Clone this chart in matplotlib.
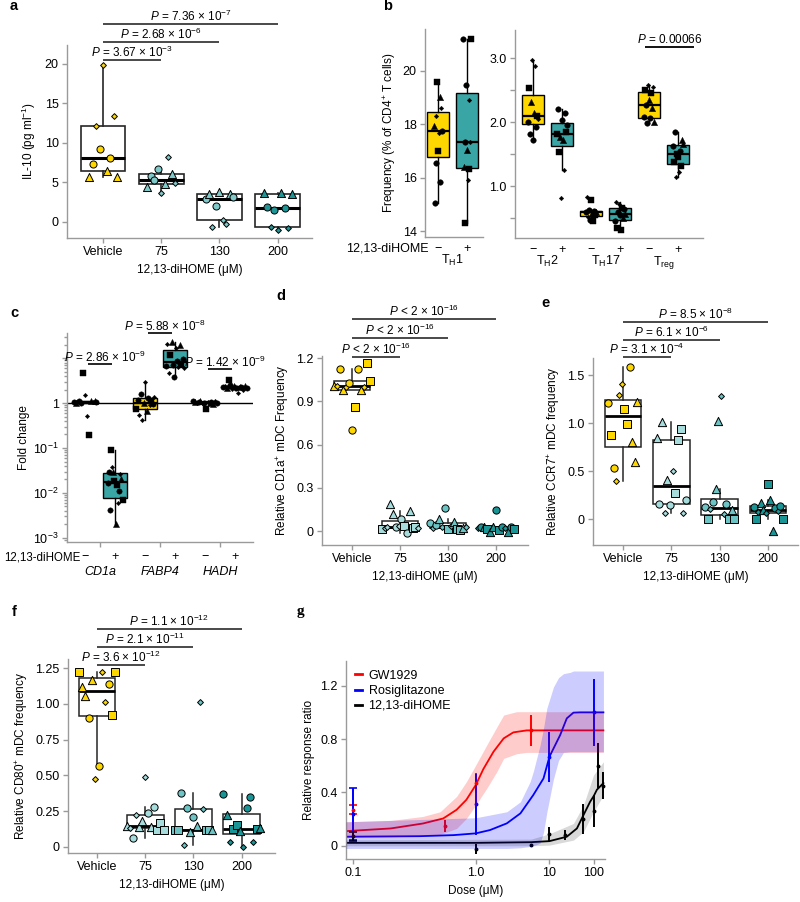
import numpy as np
import matplotlib
matplotlib.use("Agg")
import matplotlib.pyplot as plt
from matplotlib import cbook
from matplotlib.lines import Line2D
from matplotlib.ticker import LogLocator, NullFormatter, FixedLocator

plt.rcParams.update({
    'font.family': ['Liberation Sans', 'DejaVu Sans'],
    'font.size': 8.5,
    'mathtext.fontset': 'custom',
    'mathtext.rm': 'Liberation Sans',
    'mathtext.it': 'Liberation Sans:italic',
    'mathtext.bf': 'Liberation Sans:bold',
    'axes.unicode_minus': True,
})

# ---------------- colours ----------------
YEL = '#FFD700'
TEAL_BOX = '#3AA5A5'
A_LIGHT = '#80C9C9'
A_DARK = '#1F9595'
LIGHT = '#A6DCDC'
MED = '#6CC4C4'
DARK = '#1A9494'

# ---------------- data: panel a ----------------
A_GROUPS = ['Vehicle', '75', '130', '200']
A_VEH = [5.7, 7.4, 12.2, 9.2, 19.9, 6.4, 8.1, 13.4, 5.7]
A_VEH_M = "^oDoD^oD^"
A_75 = [4.4, 5.8, 5.3, 6.7, 3.7, 4.8, 8.2, 6.1, 4.9]
A_75_M = "^oooD^D^D"
A_130 = [2.9, 3.6, -0.6, 2.0, 3.8, 0.2, -0.2, 3.6, 3.1]
A_130_M = "o^Do^DD^o"
A_200 = [3.7, 1.9, -0.7, 1.5, -1.0, 3.7, 1.8, -0.8, 3.6]
A_200_M = "^oDoD^oD^"
A_P = ['3.67 × 10$^{-3}$', '2.68 × 10$^{-6}$', '7.36 × 10$^{-7}$']

# ---------------- data: panel b ----------------
B1_NEG = [17.93, 15.07, 18.3, 16.57, 19.59, 17.0, 17.66, 19.03, 15.85, 18.6, 17.76]
B1_NEG_M = "^oDossD^oDo"
B1_POS = [21.18, 16.41, 17.34, 14.31, 19.47, 17.03, 15.91, 18.9, 16.31, 17.34, 21.18]
B1_POS_M = "o^oso^DDsDs"
B_TH2_NEG = [2.0, 2.53, 1.81, 2.32, 2.97, 1.72, 2.14, 2.88, 1.93, 2.1, 2.05]
B_TH2_NEG_M = "oso^Do^DosD"
B_TH2_POS = [1.82, 2.21, 1.54, 1.77, 0.81, 2.03, 1.72, 1.26, 2.14, 1.85, 1.95]
B_TH2_POS_M = "sos^Do^Doso"
B_TH17_NEG = [0.6, 0.83, 0.52, 0.62, 0.47, 0.78, 0.58, 0.45, 0.61, 0.55, 0.6]
B_TH17_NEG_M = "oDDoos^sos^"
B_TH17_POS = [0.45, 0.76, 0.34, 0.6, 0.72, 0.55, 0.32, 0.66, 0.5, 0.65, 0.57]
B_TH17_POS_M = "oDsoDoss^o^"
B_TREG_NEG = [2.08, 2.5, 2.27, 1.98, 2.58, 2.35, 2.06, 2.45, 2.22, 2.55, 2.0]
B_TREG_NEG_M = "osooD^os^D^"
B_TREG_POS = [1.62, 1.38, 1.84, 1.14, 1.51, 1.45, 1.22, 1.55, 1.32, 1.72, 1.66]
B_TREG_POS_M = "osoDssDos^^"
B_GROUPS = ['T$_\\mathrm{H}$2', 'T$_\\mathrm{H}$17', 'T$_\\mathrm{reg}$']
B_P = '0.00066'

# ---------------- data: panel c ----------------
C_CD1A_NEG = [1.05, 1.02, 1.08, 1.1, 1.0, 4.6, 1.5, 0.51, 0.19, 1.12, 1.06, 1.1, 1.04]
C_CD1A_NEG_M = "o^DoosDDs^D^o"
C_CD1A_POS = [0.017, 0.03, 0.0042, 0.09, 0.038, 0.029, 0.018, 0.002, 0.015, 0.006, 0.011, 0.027, 0.02, 0.007]
C_CD1A_POS_M = "ooosD^s^sDoD^s"
C_FABP4_NEG = [0.75, 1.2, 0.55, 1.6, 0.42, 1.0, 2.9, 0.65, 1.3, 0.9, 1.1, 0.95, 1.35]
C_FABP4_NEG_M = "soDoD^D^oDsoD"
C_FABP4_POS = [6.8, 21, 4.6, 11.7, 23, 7.2, 3.8, 17, 8.5, 6.2, 20, 7.6, 9.5, 5.9]
C_FABP4_POS_M = "oDDs^ooDoD^soD"
C_HADH_NEG = [1.1, 1.05, 1.0, 1.08, 1.12, 0.98, 1.02, 0.75, 1.06, 1.0, 1.04, 0.96, 1.1, 1.03]
C_HADH_NEG_M = "o^Do^DosD^o^Do"
C_HADH_POS = [2.3, 2.4, 2.2, 3.2, 2.5, 2.1, 2.35, 2.2, 1.7, 2.3, 2.25, 2.0, 2.4, 2.15]
C_HADH_POS_M = "oD^soD^oD^oD^o"
C_GENES = ['CD1a', 'FABP4', 'HADH']
C_P = ['2.86 × 10$^{-9}$', '5.88 × 10$^{-8}$', '1.42 × 10$^{-9}$']

# ---------------- data: panel d ----------------
D_VEH = [1.01, 1.005, 1.125, 0.98, 1.0, 1.03, 0.70, 0.865, 1.125, 0.98, 1.0, 1.165, 1.04]
D_VEH_M = "^Do^Dooso^Dss"
D_75 = [0.015, 0.02, 0.025, 0.188, 0.118, 0.03, 0.035, 0.083, 0.035, -0.012, 0.141, 0.02, 0.025, 0.02]
D_75_M = "sDD^^oDoso^ssD"
D_130 = [0.053, 0.02, 0.04, 0.083, 0.025, 0.158, 0.012, 0.035, 0.06, 0.012, 0.01, 0.02, 0.03]
D_130_M = "oDo^DosD^ss^D"
D_200 = [0.02, 0.03, 0.025, 0.012, -0.005, 0.03, 0.148, 0.01, 0.03, 0.02, -0.005, 0.025, 0.012]
D_200_M = "Do^s^^osoD^os"
D_P = ['2 × 10$^{-16}$', '2 × 10$^{-16}$', '2 × 10$^{-16}$']

# ---------------- data: panel e ----------------
E_VEH = [1.211, 0.874, 0.536, 0.393, 1.288, 1.403, 1.145, 0.995, 1.587, 0.804, 0.595, 1.222]
E_VEH_M = "osoDDDsso^^^"
E_75 = [0.846, 0.16, 1.013, 0.066, 0.404, 0.143, 0.501, 0.275, 0.821, 0.933, 0.066, 0.202]
E_75_M = "^o^D^oDsssDo"
E_130 = [0.125, 0.0, 0.101, 0.174, 0.31, 1.02, 1.281, 0.056, 0.153, 0.0, 0.09, 0.0]
E_130_M = "osDo^^DDos^s"
E_200 = [0.125, 0.0, 0.073, 0.171, 0.095, 0.063, 0.369, 0.195, -0.125, 0.12, 0.08, 0.132, 0.0]
E_200_M = "osD^^Ds^^oDos"
E_P = ['3.1 × 10$^{-4}$', '6.1 × 10$^{-6}$', '8.5 × 10$^{-8}$']

# ---------------- data: panel f ----------------
F_VEH = [1.222, 1.117, 1.056, 0.9, 1.168, 0.474, 0.565, 1.222, 1.016, 1.138, 0.923, 1.222]
F_VEH_M = "s^^o^DoDDoss"
F_75 = [0.15, 0.13, 0.063, 0.222, 0.14, 0.182, 0.486, 0.24, 0.14, 0.28, 0.121, 0.17, 0.121]
F_75_M = "^DoD^^Do^osss"
F_130 = [0.121, 0.121, 0.374, 0.016, 0.273, 0.105, 0.21, 0.147, 1.013, 0.262, 0.121, 0.121, 0.121]
F_130_M = "ssoDo^o^DDss^"
F_200 = [0.367, 0.222, 0.035, 0.124, 0.152, 0.11, 0.0, 0.269, 0.35, 0.035, 0.124, 0.13]
F_200_M = "o^Dss^DooDs^"
F_P = ['3.6 × 10$^{-12}$', '2.1 × 10$^{-11}$', '1.1 × 10$^{-12}$']

# ---------------- data: panel g ----------------
G_NAMES = ['GW1929', 'Rosiglitazone', '12,13-diHOME']
G_COLORS = ['#FF0000', '#0000FF', '#000000']
# fitted curves
G_RED_DOSE = [0.09, 0.18, 0.32, 0.48, 0.64, 0.8, 1.0, 1.21, 1.58, 2.1, 2.8, 4.3, 200]
G_RED_FIT = [0.11, 0.13, 0.167, 0.205, 0.27, 0.345, 0.455, 0.575, 0.705, 0.805, 0.85, 0.865, 0.865]
G_BLUE_DOSE = [0.09, 0.3, 0.6, 1.0, 1.44, 2.3, 3.5, 5.4, 7.9, 10, 15.8, 21.5, 30, 43, 200]
G_BLUE_FIT = [0.068, 0.072, 0.08, 0.093, 0.118, 0.168, 0.243, 0.38, 0.505, 0.668, 0.83, 0.955, 0.998, 1.0, 1.0]
G_BLACK_DOSE = [0.09, 1, 5, 10, 21.5, 36, 52, 78, 100, 123, 200]
G_BLACK_FIT = [0.022, 0.022, 0.027, 0.035, 0.068, 0.13, 0.23, 0.33, 0.375, 0.42, 0.47]
# confidence bands
G_RED_BAND_DOSE = [0.09, 0.18, 0.32, 0.45, 0.64, 0.8, 1.0, 1.32, 1.73, 2.1, 3.1, 4.3, 200]
G_RED_LO = [0.065, 0.068, 0.075, 0.085, 0.13, 0.205, 0.305, 0.43, 0.555, 0.655, 0.69, 0.70, 0.70]
G_RED_HI = [0.18, 0.19, 0.22, 0.255, 0.37, 0.48, 0.605, 0.755, 0.89, 0.98, 1.005, 1.005, 1.005]
G_BLUE_BAND_DOSE = [0.09, 1.0, 2.3, 3.5, 4.84, 5.44, 6.94, 7.89, 8.99, 11.8, 14.7, 18.4, 25.4, 30, 200]
G_BLUE_LO = [-0.02, -0.02, -0.02, -0.015, -0.005, 0.0, 0.02, 0.1, 0.25, 0.5, 0.64, 0.70, 0.705, 0.705, 0.705]
G_BLUE_HI = [0.18, 0.21, 0.255, 0.33, 0.48, 0.56, 0.755, 0.88, 1.03, 1.19, 1.26, 1.29, 1.30, 1.31, 1.31]
G_BLACK_BAND_DOSE = [0.09, 5, 10, 30, 52, 97.6, 200]
G_BLACK_LO = [0.0, 0.0, 0.005, 0.0425, 0.105, 0.255, 0.38]
G_BLACK_HI = [0.045, 0.05, 0.09, 0.1675, 0.305, 0.53, 0.63]
# measured means +- error
G_RED_PTS_DOSE = [0.1, 0.5, 1.0, 5]
G_RED_MEAN = [0.27, 0.149, 0.47, 0.865]
G_RED_ERR = [0.035, 0.044, 0.075, 0.115]
G_BLUE_PTS_DOSE = [0.1, 1.0, 10, 100]
G_BLUE_MEAN = [0.236, 0.31, 0.667, 1.0]
G_BLUE_ERR = [0.195, 0.23, 0.187, 0.25]
G_BLACK_PTS_DOSE = [0.1, 1, 5, 10, 20, 50, 100, 130, 200]
G_BLACK_MEAN = [0.07, -0.025, 0.005, 0.088, 0.08, 0.2, 0.26, 0.6, 0.45]
G_BLACK_ERR = [0.035, 0.035, 0.012, 0.056, 0.037, 0.11, 0.12, 0.17, 0.1]

# ---------------- figure ----------------
W, H = 800, 902
fig = plt.figure(figsize=(W / 100, H / 100), dpi=100)
SPINE = '#9a9a9a'
TICKFS = 9


def add_ax(x0, y0, x1, y1):
    return fig.add_axes([x0 / W, 1 - y1 / H, (x1 - x0) / W, (y1 - y0) / H])


def style_ax(ax):
    for s in ('top', 'right'):
        ax.spines[s].set_visible(False)
    for s in ('left', 'bottom'):
        ax.spines[s].set_color(SPINE)
        ax.spines[s].set_linewidth(1.0)
    ax.tick_params(axis='both', which='both', direction='out', color=SPINE,
                   length=3.5, width=1.0, labelsize=TICKFS, pad=2.5, labelcolor='black')


def draw_box(ax, vals, pos, fc, width, ec='#262626', lw=1.1, mlw=2.0, log=False):
    v = np.asarray(vals, float)
    st = cbook.boxplot_stats(np.log10(v) if log else v)[0]
    if log:
        for k in ('med', 'q1', 'q3', 'whislo', 'whishi', 'mean'):
            st[k] = 10 ** st[k]
    st['fliers'] = []
    ax.bxp([st], positions=[pos], widths=width, showfliers=False, showcaps=False,
           patch_artist=True, manage_ticks=False, zorder=2,
           boxprops=dict(facecolor=fc, edgecolor=ec, linewidth=lw),
           medianprops=dict(color='black', linewidth=mlw, solid_capstyle='butt'),
           whiskerprops=dict(color=ec, linewidth=lw))


MSCALE = {'o': 1.0, '^': 1.3, 'D': 0.33, 's': 0.95}


def draw_pts(ax, vals, shapes, pos, spread, fc, size, ec='black', lw=0.7):
    n = len(vals)
    offs = np.linspace(-spread, spread, n)
    for v, sh, o in zip(vals, shapes, offs):
        ax.scatter(pos + o, v, marker=sh, s=size * MSCALE[sh], facecolor=fc,
                   edgecolor=ec, linewidth=lw, zorder=3, clip_on=False)


def sig_bars(ax, x1s, yfr, texts, rel='=', x0=0):
    tr = ax.get_xaxis_transform()
    for x1, y, t in zip(x1s, yfr, texts):
        ax.plot([x0, x1], [y, y], transform=tr, color='#3a3a3a', lw=1.3,
                clip_on=False, solid_capstyle='butt')
        ax.annotate('$P$ ' + rel + ' ' + t, xy=((x0 + x1) / 2, y), xycoords=tr,
                    xytext=(0, 2.2), textcoords='offset points', ha='center',
                    va='baseline', fontsize=8.5, annotation_clip=False)


def letter(x, y, s, **kw):
    fig.text(x / W, 1 - y / H, s, fontweight='bold', fontsize=10.5, va='baseline', **kw)


# ================= panel a =================
ax = add_ax(67, 45, 312, 238)
style_ax(ax)
a_vals = [A_VEH, A_75, A_130, A_200]
a_marks = [A_VEH_M, A_75_M, A_130_M, A_200_M]
a_cols = [YEL, A_LIGHT, A_LIGHT, A_DARK]
for i, (v, m, c) in enumerate(zip(a_vals, a_marks, a_cols)):
    draw_box(ax, v, i, 'white', 0.77, lw=1.2, mlw=2.2)
    draw_pts(ax, v, m, i, 0.24, c, 26)
ax.set_xlim(-0.62, 3.59)
ax.set_ylim(-2.03, 22.4)
ax.set_xticks(range(4))
ax.set_xticklabels(A_GROUPS)
ax.set_yticks([0, 5, 10, 15, 20])
ax.set_xlabel('12,13-diHOME (μM)', labelpad=4)
ax.set_ylabel('IL-10 (pg ml$^{-1}$)', labelpad=5)
sig_bars(ax, [1, 2, 3], [0.922, 1.016, 1.109], A_P)
letter(10, 10, 'a')

# ================= panel b (TH1) =================
ax = add_ax(425, 29, 483, 237)
style_ax(ax)
for i, (v, m, c) in enumerate(zip([B1_NEG, B1_POS], [B1_NEG_M, B1_POS_M], [YEL, TEAL_BOX])):
    draw_box(ax, v, i, c, 0.76, ec='black', lw=1.0, mlw=1.6)
    draw_pts(ax, v, m, i, 0.14, 'black', 16, ec='black', lw=0.3)
ax.set_xlim(-0.45, 1.55)
ax.set_ylim(13.78, 21.57)
ax.set_yticks([14, 16, 18, 20])
ax.set_xticks([0, 1])
ax.set_xticklabels(['−', '+'])
ax.tick_params(axis='x', length=0, pad=4)
ax.set_ylabel('Frequency (% of CD4$^{+}$ T cells)', labelpad=3)
ax.annotate('12,13-diHOME', xy=(-0.33, 0), xycoords=('data', 'axes fraction'),
            xytext=(0, -8.0), textcoords='offset points', ha='right', va='center',
            annotation_clip=False, fontsize=TICKFS)
ax.annotate('T$_\\mathrm{H}$1', xy=(0.5, 0), xycoords=('data', 'axes fraction'),
            xytext=(0, -11.5), textcoords='offset points', ha='center', va='top',
            annotation_clip=False, fontsize=TICKFS)
letter(383, 10, 'b')

# ================= panel b (TH2/TH17/Treg) =================
ax = add_ax(515, 30, 703, 238)
style_ax(ax)
b_vals = [B_TH2_NEG, B_TH2_POS, B_TH17_NEG, B_TH17_POS, B_TREG_NEG, B_TREG_POS]
b_marks = [B_TH2_NEG_M, B_TH2_POS_M, B_TH17_NEG_M, B_TH17_POS_M, B_TREG_NEG_M, B_TREG_POS_M]
for i, (v, m) in enumerate(zip(b_vals, b_marks)):
    draw_box(ax, v, i, [YEL, TEAL_BOX][i % 2], 0.74, ec='black', lw=1.0, mlw=1.6)
    draw_pts(ax, v, m, i, 0.16, 'black', 16, ec='black', lw=0.3)
ax.set_xlim(-0.62, 5.86)
ax.set_ylim(0.19, 3.44)
ax.set_yticks([1, 2, 3])
ax.set_yticklabels(['1.0', '2.0', '3.0'])
ax.yaxis.set_minor_locator(FixedLocator([0.5, 1.5, 2.5]))
ax.set_xticks(range(6))
ax.set_xticklabels(['−', '+'] * 3)
ax.tick_params(axis='x', length=0, pad=4)
for k, g in enumerate(B_GROUPS):
    ax.annotate(g, xy=(2 * k + 0.5, 0), xycoords=('data', 'axes fraction'),
                xytext=(0, -11.5), textcoords='offset points', ha='center', va='top',
                annotation_clip=False, fontsize=TICKFS)
tr = ax.get_xaxis_transform()
ax.plot([4 - 0.15, 5 + 0.55], [0.918, 0.918], transform=tr, color='black', lw=1.3,
        clip_on=False, solid_capstyle='butt')
ax.annotate('$P$ = ' + B_P, xy=(4.7, 0.918), xycoords=tr, xytext=(0, 3),
            textcoords='offset points', ha='center', va='baseline', annotation_clip=False)

# ================= panel c =================
ax = add_ax(67, 333, 253, 542)
style_ax(ax)
ax.set_yscale('log')
c_vals = [C_CD1A_NEG, C_CD1A_POS, C_FABP4_NEG, C_FABP4_POS, C_HADH_NEG, C_HADH_POS]
c_marks = [C_CD1A_NEG_M, C_CD1A_POS_M, C_FABP4_NEG_M, C_FABP4_POS_M, C_HADH_NEG_M, C_HADH_POS_M]
c_spread = [0.38, 0.25, 0.3, 0.3, 0.4, 0.4]
for i, (v, m, sp) in enumerate(zip(c_vals, c_marks, c_spread)):
    draw_box(ax, v, i, [YEL, TEAL_BOX][i % 2], 0.77, ec='black', lw=1.0, mlw=1.6, log=True)
    draw_pts(ax, v, m, i, sp, 'black', 15, ec='black', lw=0.3)
ax.axhline(1, color='black', lw=1.0, zorder=2.5)
ax.set_xlim(-0.6, 5.6)
ax.set_ylim(8.1e-4, 36.3)
ax.yaxis.set_major_locator(FixedLocator([1e-3, 1e-2, 1e-1, 1, 10]))
ax.set_yticklabels(['10$^{-3}$', '10$^{-2}$', '10$^{-1}$', '1', ''])
ax.yaxis.set_minor_locator(LogLocator(base=10, subs=np.arange(2, 10)))
ax.yaxis.set_minor_formatter(NullFormatter())
ax.tick_params(axis='y', which='minor', length=2)
ax.set_xticks(range(6))
ax.set_xticklabels(['−', '+'] * 3)
ax.set_xticks([0.5, 2.5, 4.5], minor=True)
ax.tick_params(axis='x', which='major', length=0, pad=6.5)
ax.tick_params(axis='x', which='minor', length=3.5)
ax.set_ylabel('Fold change', labelpad=2)
ax.annotate('12,13-diHOME', xy=(-0.15, 0), xycoords=('data', 'axes fraction'),
            xytext=(0, -10.8), textcoords='offset points', ha='right', va='center',
            annotation_clip=False, fontsize=8.3)
for k, g in enumerate(C_GENES):
    ax.annotate(g, xy=(2 * k + 0.5, 0), xycoords=('data', 'axes fraction'),
                xytext=(0, -17.5), textcoords='offset points', ha='center', va='top',
                style='italic', annotation_clip=False, fontsize=TICKFS)
tr = ax.get_xaxis_transform()
for k, (y, t) in enumerate(zip([0.852, 1.0, 0.828], C_P)):
    ax.plot([2 * k + 0.1, 2 * k + 0.9], [y, y], transform=tr, color='black', lw=1.2,
            clip_on=False, solid_capstyle='butt')
    ax.annotate('$P$ = ' + t, xy=(2 * k + 0.65, y), xycoords=tr, xytext=(0, 1.6),
                textcoords='offset points', ha='center', va='baseline', annotation_clip=False)
letter(10, 317, 'c')


# ================= panels d, e, f =================
def dose_panel(box, vals, marks, cols, xlim, ylim, yticks, ylabels, ylabel, ptexts, pfr, rel, spread, letter_xy, let):
    ax = add_ax(*box)
    style_ax(ax)
    for i, (v, m, c) in enumerate(zip(vals, marks, cols)):
        draw_box(ax, v, i, 'white', 0.76, lw=1.1, mlw=2.0)
        draw_pts(ax, v, m, i, spread, c, 27)
    ax.set_xlim(*xlim)
    ax.set_ylim(*ylim)
    ax.set_xticks(range(4))
    ax.set_xticklabels(A_GROUPS)
    ax.set_yticks(yticks)
    ax.set_yticklabels(ylabels)
    ax.set_xlabel('12,13-diHOME (μM)', labelpad=4)
    ax.set_ylabel(ylabel, labelpad=4)
    sig_bars(ax, [1, 2, 3], pfr, ptexts, rel=rel)
    letter(letter_xy[0], letter_xy[1], let)
    return ax


dose_panel((322, 356, 528, 545), [D_VEH, D_75, D_130, D_200], [D_VEH_M, D_75_M, D_130_M, D_200_M],
           [YEL, LIGHT, MED, DARK], (-0.625, 3.67), (-0.097, 1.216),
           [0, 0.3, 0.6, 0.9, 1.2], ['0', '0.3', '0.6', '0.9', '1.2'],
           'Relative CD1a$^{+}$ mDC Frequency', D_P, [0.995, 1.095, 1.196], '<', 0.38, (276, 300), 'd')
dose_panel((593, 358, 798, 545), [E_VEH, E_75, E_130, E_200], [E_VEH_M, E_75_M, E_130_M, E_200_M],
           [YEL, LIGHT, MED, DARK], (-0.62, 3.62), (-0.27, 1.677),
           [0, 0.5, 1.0, 1.5], ['0', '0.5', '1.0', '1.5'],
           'Relative CCR7$^{+}$ mDC frequency', E_P, [1.005, 1.096, 1.193], '=', 0.3, (541, 307), 'e')
dose_panel((68, 659, 275, 853), [F_VEH, F_75, F_130, F_200], [F_VEH_M, F_75_M, F_130_M, F_200_M],
           [YEL, LIGHT, MED, DARK], (-0.6, 3.69), (-0.042, 1.313),
           [0, 0.25, 0.5, 0.75, 1.0, 1.25], ['0', '0.25', '0.50', '0.75', '1.00', '1.25'],
           'Relative CD80$^{+}$ mDC frequency', F_P, [0.969, 1.062, 1.155], '=', 0.38, (12, 616), 'f')

# ================= panel g =================
ax = add_ax(346, 661, 605, 859)
style_ax(ax)
PEXP = -0.22


def g_fwd(x):
    x = np.clip(np.asarray(x, float), 1e-6, None)
    return -np.power(x, PEXP)


def g_inv(t):
    t = np.clip(np.asarray(t, float), None, -1e-9)
    return np.power(-t, 1.0 / PEXP)


ax.set_xscale('function', functions=(g_fwd, g_inv))
fits = [(G_RED_DOSE, G_RED_FIT), (G_BLUE_DOSE, G_BLUE_FIT), (G_BLACK_DOSE, G_BLACK_FIT)]
bands = [(G_RED_BAND_DOSE, G_RED_LO, G_RED_HI), (G_BLUE_BAND_DOSE, G_BLUE_LO, G_BLUE_HI),
         (G_BLACK_BAND_DOSE, G_BLACK_LO, G_BLACK_HI)]
pts = [(G_RED_PTS_DOSE, G_RED_MEAN, G_RED_ERR), (G_BLUE_PTS_DOSE, G_BLUE_MEAN, G_BLUE_ERR),
       (G_BLACK_PTS_DOSE, G_BLACK_MEAN, G_BLACK_ERR)]
band_alpha = [0.2, 0.2, 0.15]
for (fd, fy), (pd, pm, pe), col in zip(fits, pts, G_COLORS):
    ax.plot(fd, fy, color=col, lw=1.3, zorder=2)
    pd = np.asarray(pd, float); pm = np.asarray(pm, float); pe = np.asarray(pe, float)
    ax.errorbar(pd, pm, yerr=pe, fmt='o', ms=1.8, color=col, elinewidth=1.4, capsize=0, zorder=3)
    lo = pd == pd.min()
    ax.errorbar(pd[lo], pm[lo], yerr=pe[lo], fmt='none', ecolor=col, elinewidth=1.2,
                capsize=3, capthick=1.2, zorder=3)
for (bd, bl, bh), col, al in zip(bands, G_COLORS, band_alpha):
    ax.fill_between(bd, bl, bh, color=col, alpha=al, lw=0, zorder=4)
ax.set_xlim(0.0898, 227)
ax.set_ylim(-0.099, 1.385)
ax.set_xticks([0.1, 1, 10, 100])
ax.set_xticklabels(['0.1', '1.0', '10', '100'])
ax.xaxis.set_minor_locator(FixedLocator([]))
ax.set_yticks([0, 0.4, 0.8, 1.2])
ax.set_yticklabels(['0', '0.4', '0.8', '1.2'])
ax.set_xlabel('Dose (μM)', labelpad=4)
ax.set_ylabel('Relative response ratio', labelpad=4)
handles = [Line2D([], [], color=c, lw=2) for c in G_COLORS]
ax.legend(handles, G_NAMES, loc='upper left', frameon=False, handlelength=0.6,
          handletextpad=0.5, labelspacing=0.25, borderaxespad=0.3, fontsize=9,
          bbox_to_anchor=(0.0, 1.0))
fig.text(297 / W, 1 - 615 / H, 'g', fontweight='bold', fontsize=11, va='baseline',
         family=['Liberation Serif', 'DejaVu Serif'])

fig.savefig('out.png', dpi=100)
